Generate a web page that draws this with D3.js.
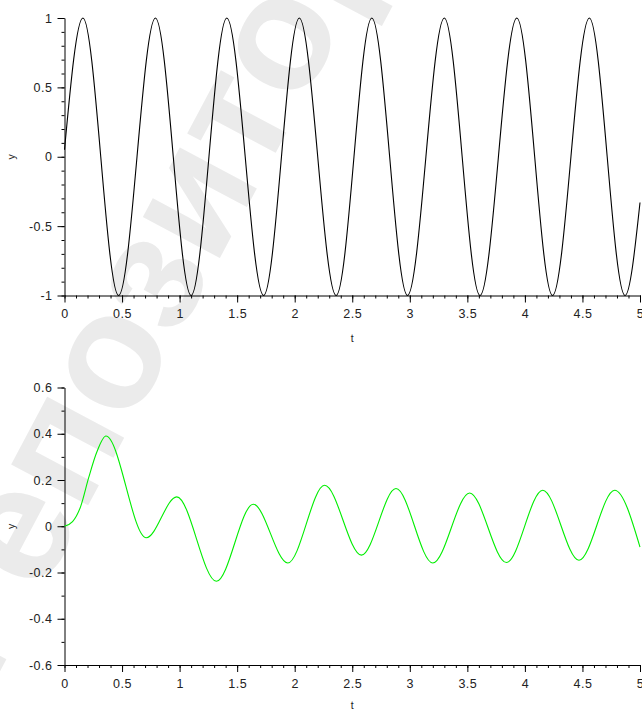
<!DOCTYPE html>
<html>
<head>
<meta charset="utf-8">
<script src="https://cdn.jsdelivr.net/npm/d3@7"></script>
<style>
  html, body { margin: 0; padding: 0; background: #ffffff; }
  svg { display: block; }
  .tick text { font-family: "Liberation Sans", Arial, sans-serif; font-size: 12.5px; letter-spacing: 0.5px; fill: #222; }
  .lbl { font-family: "Liberation Sans", Arial, sans-serif; font-size: 10.5px; fill: #222; }
</style>
</head>
<body>
<svg id="chart" width="642" height="711"></svg>
<script>
// Upper panel: input signal, extrema read along t
const inputT = [0, 0.16, 0.47, 0.79, 1.10, 1.41, 1.73, 2.04, 2.36, 2.67, 2.98, 3.30, 3.61, 3.93, 4.24, 4.56, 4.87, 5.0];
const inputY = [0.05, 1, -1, 1, -1, 1, -1, 1, -1, 1, -1, 1, -1, 1, -1, 1, -1, -0.33];

// Lower panel: system response
const responseT = [0, 0.07, 0.14, 0.21, 0.28, 0.36, 0.71, 0.975, 1.32, 1.64, 1.94, 2.26, 2.58, 2.88, 3.20, 3.52, 3.84, 4.155, 4.47, 4.78, 5.0];
const responseY = [0, 0.02, 0.085, 0.21, 0.32, 0.39, -0.05, 0.127, -0.238, 0.095, -0.159, 0.177, -0.125, 0.163, -0.159, 0.144, -0.157, 0.156, -0.147, 0.156, -0.09];

// Axis ticks
const tTicks = [0, 0.5, 1, 1.5, 2, 2.5, 3, 3.5, 4, 4.5, 5];
const inputTicks = [-1, -0.5, 0, 0.5, 1];
const responseTicks = [-0.6, -0.4, -0.2, 0, 0.2, 0.4, 0.6];

const svg = d3.select("#chart");

// faint repository watermark behind the plots
svg.append("text")
  .attr("transform", "translate(-10,690) rotate(-62)")
  .attr("font-family", "'Liberation Sans', Arial, sans-serif")
  .attr("font-weight", "bold")
  .attr("font-size", 165)
  .attr("fill", "#ebebeb")
  .text("Репозиторий ГГТУ");

const x = d3.scaleLinear().domain([0, 5]).range([64.5, 640]);

function minorTicks(domain, step) {
  const out = [];
  for (let v = domain[0]; v <= domain[1] + 1e-9; v += step) out.push(+v.toFixed(6));
  return out;
}

// plain hyphen for negatives, shortest decimal form
const fmt = d => String(+(+d).toFixed(2));

function panel(y, yTicks, yMinorStep, ts, ys, color, xLabelY, yLabelX) {
  const g = svg.append("g");
  const y0 = y.range()[0];

  // x axis: minor then major ticks
  g.append("g")
    .attr("transform", `translate(0,${y0})`)
    .call(d3.axisBottom(x).tickValues(minorTicks([0, 5], 0.1)).tickSize(3).tickFormat(""))
    .call(a => a.select(".domain").remove())
    .selectAll("line").attr("stroke", "#000");
  const xa = g.append("g")
    .attr("transform", `translate(0,${y0})`)
    .call(d3.axisBottom(x).tickValues(tTicks).tickSize(7).tickSizeOuter(0)
      .tickFormat(fmt).tickPadding(7));
  xa.select(".domain").attr("stroke", "#000");
  xa.selectAll("line").attr("stroke", "#000");

  // y axis
  g.append("g")
    .attr("transform", `translate(${x.range()[0]},0)`)
    .call(d3.axisLeft(y).tickValues(minorTicks(y.domain(), yMinorStep)).tickSize(3).tickFormat(""))
    .call(a => a.select(".domain").remove())
    .selectAll("line").attr("stroke", "#000");
  const ya = g.append("g")
    .attr("transform", `translate(${x.range()[0]},0)`)
    .call(d3.axisLeft(y).tickValues(yTicks).tickSize(7).tickSizeOuter(0)
      .tickFormat(fmt).tickPadding(5));
  ya.select(".domain").attr("stroke", "#000");
  ya.selectAll("line").attr("stroke", "#000");

  // curve
  const pts = ts.map((t, i) => [t, ys[i]]);
  g.append("path")
    .datum(pts)
    .attr("fill", "none")
    .attr("stroke", color)
    .attr("stroke-width", 1.1)
    .attr("d", d3.line().x(d => x(d[0])).y(d => y(d[1])).curve(d3.curveMonotoneX));

  // axis titles
  g.append("text").attr("class", "lbl")
    .attr("x", (x.range()[0] + x.range()[1]) / 2).attr("y", xLabelY)
    .attr("text-anchor", "middle").text("t");
  const ym = (y.range()[0] + y.range()[1]) / 2;
  g.append("text").attr("class", "lbl")
    .attr("transform", `translate(${yLabelX},${ym}) rotate(-90)`)
    .attr("text-anchor", "middle").text("y");
}

const yTop = d3.scaleLinear().domain([-1, 1]).range([295.5, 18]);
const yBottom = d3.scaleLinear().domain([-0.6, 0.6]).range([665, 387.5]);

panel(yTop, inputTicks, 0.1, inputT, inputY, "#000000", 342, 15);
panel(yBottom, responseTicks, 0.1, responseT, responseY, "#00ee00", 709, 15);
</script>
</body>
</html>
